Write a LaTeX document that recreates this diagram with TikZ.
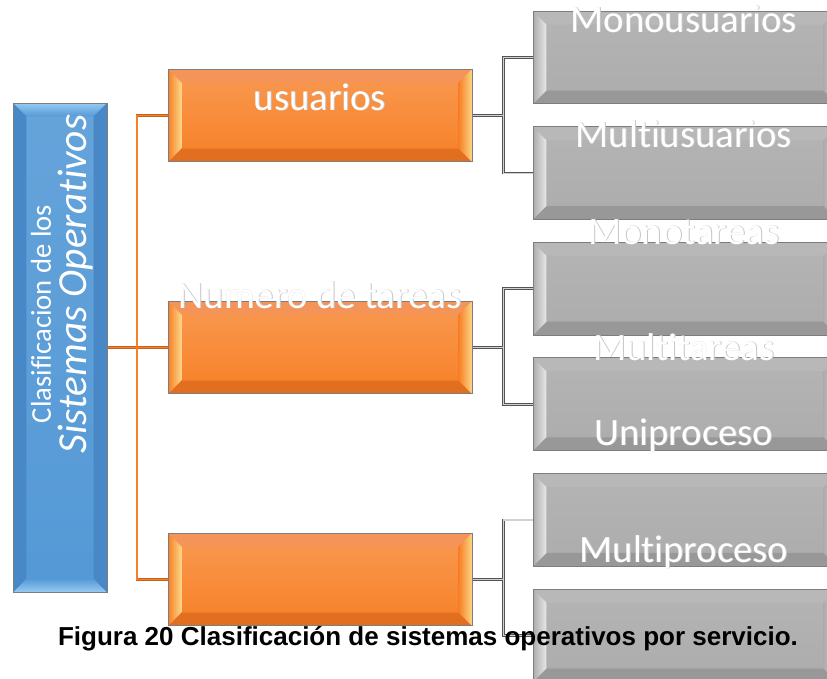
\documentclass[tikz,border=0pt]{standalone}
\usepackage{fontspec}
\setmainfont{Carlito}[Ligatures=CommonOff]
\newfontfamily\capfont{Liberation Sans}
\usetikzlibrary{calc}

\definecolor{orgface}{RGB}{247,128,38}
\definecolor{orgtop}{RGB}{245,148,88}
\definecolor{orgbot}{RGB}{226,110,32}
\definecolor{orgside}{RGB}{253,214,135}
\definecolor{orgline}{RGB}{196,98,30}
\definecolor{gryface}{RGB}{172,172,172}
\definecolor{grytop}{RGB}{184,184,184}
\definecolor{grybot}{RGB}{152,152,152}
\definecolor{gryside}{RGB}{232,232,232}
\definecolor{bluface}{RGB}{84,153,214}
\definecolor{blutop}{RGB}{150,202,242}
\definecolor{bluside}{RGB}{72,136,198}
\definecolor{boxline}{RGB}{125,125,125}

\newcommand{\bevw}{10pt}
% bevel faces: top, bottom, left, right
\newcommand{\bevelfaces}[4]{%
  \path (path picture bounding box.north west) coordinate (bnw)
        (path picture bounding box.north east) coordinate (bne)
        (path picture bounding box.south east) coordinate (bse)
        (path picture bounding box.south west) coordinate (bsw)
        ([shift={(\bevw,-\bevw)}]bnw) coordinate (inw)
        ([shift={(-\bevw,-\bevw)}]bne) coordinate (ine)
        ([shift={(-\bevw,\bevw)}]bse) coordinate (ise)
        ([shift={(\bevw,\bevw)}]bsw) coordinate (isw);
  \path[#1] (bnw) -- (bne) -- (ine) -- (inw) -- cycle;
  \path[#2] (bsw) -- (bse) -- (ise) -- (isw) -- cycle;
  \path[#3] (bnw) -- (inw) -- (isw) -- (bsw) -- cycle;
  \path[#4] (bne) -- (ine) -- (ise) -- (bse) -- cycle;}
\newcommand{\softtext}[1]{\leavevmode\rlap{\kern0.7pt\raisebox{-0.7pt}{\textcolor{gray!45}{#1}}}#1}

\begin{document}
\begin{tikzpicture}[x=0.75pt, y=-0.75pt,
  box/.style={draw=boxline, line width=0.75pt, inner sep=0pt, minimum width=228pt, minimum height=69.5pt},
  orgbox/.style={box, top color=orgface!80!white, bottom color=orgface,
    path picture={\bevelfaces{fill=orgtop}{fill=orgbot}{left color=orgface, right color=orgside}{left color=orgface, right color=orgside}}},
  grybox/.style={box, top color=gryface!90!white, bottom color=gryface,
    path picture={\bevelfaces{fill=grytop}{fill=grybot}{left color=gryface, right color=gryside}{left color=gryface, right color=gryside!80!gray}}},
  blubox/.style={box, minimum width=70.5pt, minimum height=366.75pt, top color=bluface!90!white, bottom color=bluface,
    path picture={\bevelfaces{top color=blutop, bottom color=bluface}{top color=bluface, bottom color=blutop}{fill=bluside}{fill=bluside}}},
  lbl/.style={text=white, font=\fontsize{29}{35}\selectfont, anchor=base, inner sep=0pt},
  oline/.style={draw=orgline, double=orgface, double distance=0.8pt, line width=0.55pt},
  gline/.style={draw=gray!65!black, double=gray!35, double distance=0.9pt, line width=0.55pt}]
\useasboundingbox (0,0) rectangle (827,678);
\fill[white] (0,0) rectangle (827,678);

\node[blubox] (clas) at (60,347.5) {};
\node[orgbox] (usu) at (320,115.5) {};
\node[orgbox] (tar) at (320,347.5) {};
\node[orgbox] (pro) at (320,579.5) {};
\node[grybox] (mono) at (685,57.5) {};
\node[grybox] (multi) at (685,173.1) {};
\node[grybox] (monot) at (685,288.7) {};
\node[grybox] (multit) at (685,404.3) {};
\node[grybox] (unip) at (685,519.9) {};
\node[grybox] (multip) at (685,635.5) {};

% connectors
\coordinate (obr) at (137,347.5);
\draw[oline] (clas.east) -- (obr) (obr) |- (usu.west) (obr) |- (tar.west) (obr) |- (pro.west);
\coordinate (gu) at ($(usu.east)+(31,0)$);
\coordinate (gt) at ($(tar.east)+(31,0)$);
\coordinate (gp) at ($(pro.east)+(31,0)$);
\draw[gline] (usu.east) -- (gu) (gu) |- (mono.west) (gu) |- (multi.west);
\draw[gline] (tar.east) -- (gt) (gt) |- (monot.west) (gt) |- (multit.west);
\draw[gline] (pro.east) -- (gp) (gp) |- (unip.west) (gp) |- (multip.west);

% texts
\node[rotate=90, text=white, inner sep=0pt, font=\fontsize{21.5}{26}\selectfont] (tclas) at (41,314) {Clasificacion de los};
\node[rotate=90, text=white, inner sep=0pt, font=\fontsize{31}{37}\selectfont\itshape] (tsist) at (76,284) {Sistemas Operativos};
\node[lbl] (tusu) at (320,110) {\softtext{usuarios}};
\node[lbl] (ttar) at (320,308) {\softtext{Numero de tareas}};
\node[lbl] (tmono) at (684,32) {\softtext{Monousuarios}};
\node[lbl] (tmulti) at (684,147) {\softtext{Multiusuarios}};
\node[lbl] (tmonot) at (684,244) {\softtext{Monotareas}};
\node[lbl] (tmultit) at (684,360) {\softtext{Multitareas}};
\node[lbl] (tunip) at (684,445) {\softtext{Uniproceso}};
\node[lbl] (tmultip) at (684,562) {\softtext{Multiproceso}};

\node[anchor=base, inner sep=0pt, font=\capfont\bfseries\fontsize{19.5}{23}\selectfont] (cap) at (428,645) {Figura 20 Clasificación de sistemas operativos por servicio.};
\end{tikzpicture}
\end{document}
